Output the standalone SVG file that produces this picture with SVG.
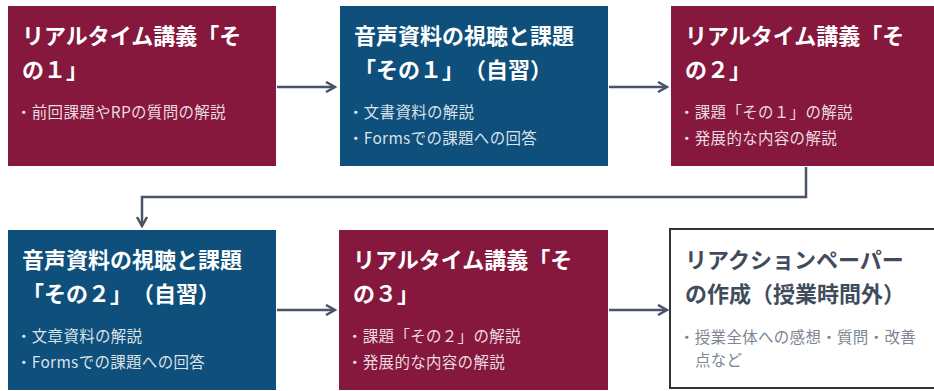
<svg xmlns="http://www.w3.org/2000/svg" width="934" height="391" viewBox="0 0 934 391">
<style>
text{text-spacing-trim:space-all;font-family:"Noto Sans CJK JP","Noto Sans",sans-serif}
.red{fill:#86173d}
.blue{fill:#0e4f7b}
.title{font-size:22px;font-weight:bold;fill:#ffffff}
.item{font-size:15.5px;letter-spacing:0.3px;fill:#ffffff;fill-opacity:0.85}
.dtitle{font-size:22px;font-weight:bold;fill:#404c5c}
.ditem{font-size:15.5px;letter-spacing:0.3px;fill:#7c8591}
.conn{fill:none;stroke:#4a5468;stroke-width:2.5}
</style>
<defs>
<marker id="arr" markerWidth="12" markerHeight="12" refX="10" refY="6" orient="auto" markerUnits="userSpaceOnUse">
<path d="M1,1 L10,6 L1,11" fill="none" stroke="#4a5468" stroke-width="2.5"/>
</marker>
</defs>
<rect width="934" height="391" fill="#ffffff"/>
<g id="n1">
<rect class="red" x="8" y="6" width="268" height="160"/>
<text class="title" x="22" y="44">リアルタイム講義「そ</text>
<text class="title" x="22" y="78">の１」</text>
<text class="item" x="16" y="118">・前回課題やRPの質問の解説</text>
</g>
<g id="n2">
<rect class="blue" x="340" y="6" width="268" height="160"/>
<text class="title" x="354" y="44">音声資料の視聴と課題</text>
<text class="title" x="354" y="78">「その１」（自習）</text>
<text class="item" x="348" y="118">・文書資料の解説</text>
<text class="item" x="348" y="144">・Formsでの課題への回答</text>
</g>
<g id="n3">
<rect class="red" x="671" y="6" width="270" height="160"/>
<text class="title" x="685" y="44">リアルタイム講義「そ</text>
<text class="title" x="685" y="78">の２」</text>
<text class="item" x="679" y="118">・課題「その１」の解説</text>
<text class="item" x="679" y="144">・発展的な内容の解説</text>
</g>
<g id="n4">
<rect class="blue" x="8" y="230" width="268" height="160"/>
<text class="title" x="22" y="268">音声資料の視聴と課題</text>
<text class="title" x="22" y="302">「その２」（自習）</text>
<text class="item" x="16" y="342">・文章資料の解説</text>
<text class="item" x="16" y="368">・Formsでの課題への回答</text>
</g>
<g id="n5">
<rect class="red" x="339" y="230" width="269" height="160"/>
<text class="title" x="353" y="268">リアルタイム講義「そ</text>
<text class="title" x="353" y="302">の３」</text>
<text class="item" x="347" y="342">・課題「その２」の解説</text>
<text class="item" x="347" y="368">・発展的な内容の解説</text>
</g>
<g id="n6">
<rect x="670" y="229" width="280" height="159" fill="#ffffff" stroke="#333333" stroke-width="2"/>
<text class="dtitle" x="685" y="268">リアクションペーパー</text>
<text class="dtitle" x="685" y="302">の作成（授業時間外）</text>
<text class="ditem" x="679" y="343">・授業全体への感想・質問・改善</text>
<text class="ditem" x="695" y="366">点など</text>
</g>
<g id="connectors">
<line class="conn" x1="277" y1="87" x2="335" y2="87" marker-end="url(#arr)"/>
<line class="conn" x1="609" y1="87" x2="667" y2="87" marker-end="url(#arr)"/>
<polyline class="conn" points="806,167 806,197 142,197 142,226" marker-end="url(#arr)"/>
<line class="conn" x1="277" y1="310" x2="335" y2="310" marker-end="url(#arr)"/>
<line class="conn" x1="609" y1="310" x2="667" y2="310" marker-end="url(#arr)"/>
</g>
</svg>
